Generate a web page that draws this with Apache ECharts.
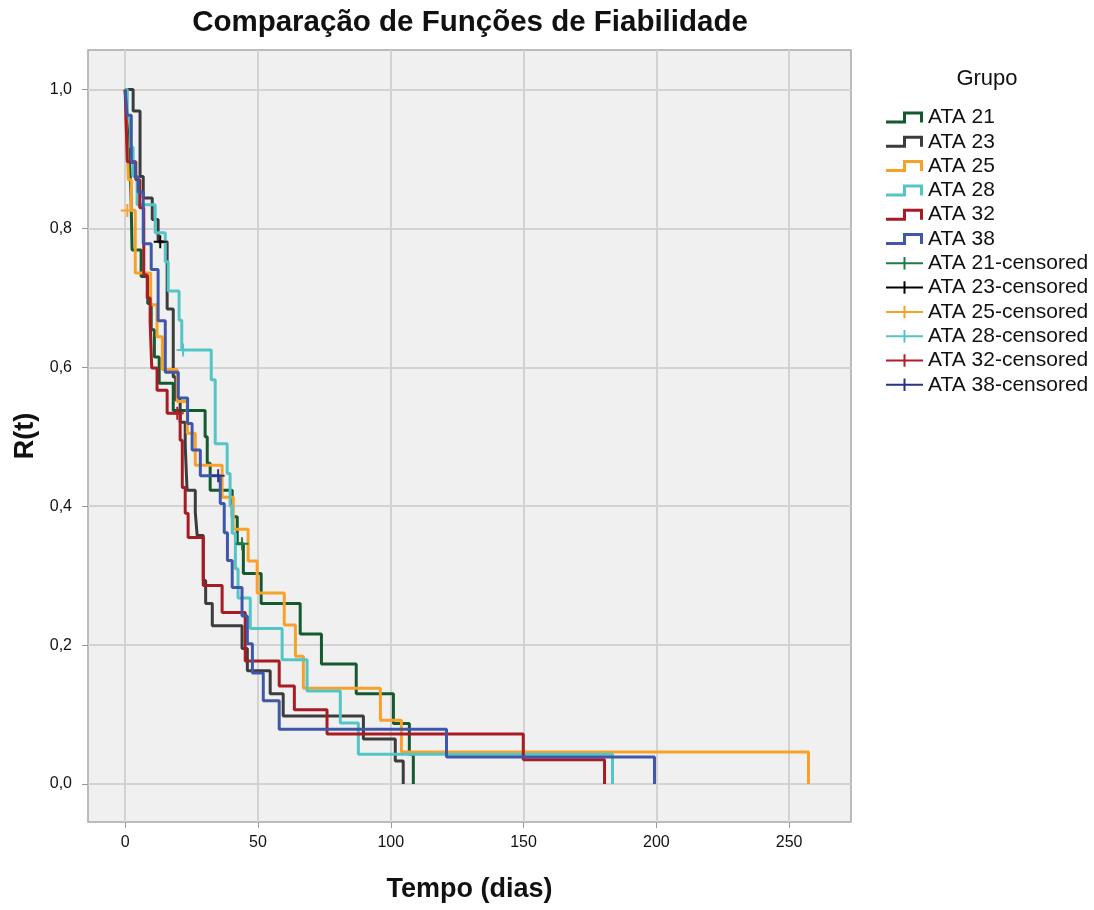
<!DOCTYPE html>
<html>
<head>
<meta charset="utf-8">
<script src="https://cdn.jsdelivr.net/npm/echarts@6/dist/echarts.min.js"></script>
<style>
html,body{margin:0;padding:0;background:#fff;}
#chart{width:1094px;height:910px;}
</style>
</head>
<body>
<div id="chart"></div>
<script>
// Kaplan-Meier step curves: [tempo (dias), R(t)]
const groupNames = ['ATA 21', 'ATA 23', 'ATA 25', 'ATA 28', 'ATA 32', 'ATA 38'];

const ata21 = [[0,1],[0.5,0.962],[1.2,0.923],[1.8,0.885],[2.2,0.846],[2.6,0.769],[6.0,0.731],[8.5,0.692],[9.8,0.654],[11,0.615],[12.8,0.577],[18.1,0.538],[30.1,0.500],[30.9,0.462],[32.0,0.423],[40.3,0.385],[42.2,0.346],[44.5,0.303],[51.2,0.260],[65.9,0.216],[73.9,0.173],[87.0,0.130],[101.0,0.087],[107.0,0.043],[108.5,0]];
const ata23 = [[0,1],[3.0,0.969],[5.6,0.875],[6.8,0.844],[10.2,0.813],[12.4,0.781],[15.8,0.684],[18.1,0.586],[19.0,0.553],[20.7,0.521],[22.6,0.488],[23.3,0.423],[26.4,0.391],[27.1,0.358],[29.4,0.293],[30.3,0.260],[32.8,0.228],[44.0,0.195],[46.0,0.163],[54.6,0.130],[59.5,0.098],[89.7,0.065],[101.7,0.033],[104.7,0]];
const ata25 = [[0,1],[0.3,0.957],[0.8,0.913],[1.2,0.870],[2.3,0.826],[3.8,0.736],[9.6,0.690],[12.0,0.644],[14.0,0.597],[19.6,0.551],[23.4,0.505],[26.4,0.459],[36.5,0.413],[40.7,0.367],[46.3,0.321],[49.7,0.275],[59.9,0.229],[64.1,0.184],[67.1,0.138],[96.1,0.092],[104.0,0.046],[257.3,0]];
const ata28 = [[0,1],[0.8,0.958],[2.0,0.917],[3.0,0.875],[4.5,0.834],[11.3,0.794],[15.1,0.752],[16.2,0.710],[20.3,0.668],[21.3,0.625],[32.4,0.582],[33.9,0.490],[38.4,0.447],[39.5,0.400],[40.3,0.361],[41.5,0.310],[42.5,0.268],[47.1,0.224],[59.1,0.179],[68.5,0.134],[81.0,0.088],[87.8,0.043],[183.5,0]];
const ata32 = [[0,1],[0.3,0.960],[0.8,0.896],[4.0,0.870],[5.5,0.830],[7.0,0.733],[8.3,0.700],[9.4,0.665],[10.0,0.599],[12.0,0.567],[15.8,0.534],[20.7,0.495],[21.5,0.427],[22.6,0.390],[23.7,0.355],[29.4,0.286],[36.5,0.247],[45.2,0.177],[58.0,0.141],[63.7,0.107],[76.0,0.072],[149.9,0.035],[180.5,0]];
const ata38 = [[0,1],[0.7,0.963],[2.3,0.895],[3.8,0.874],[4.9,0.852],[6.8,0.778],[9.8,0.741],[12.4,0.667],[15.1,0.593],[20.0,0.556],[23.5,0.519],[25.2,0.481],[28.3,0.444],[35.8,0.404],[37.3,0.362],[38.5,0.322],[40.3,0.283],[44.0,0.242],[46.0,0.202],[47.9,0.160],[52.0,0.120],[58.0,0.079],[121.0,0.039],[199.3,0]];

// censored observations
const cens21 = [[44.0,0.346]];
const cens23 = [[13.2,0.781]];
const cens25 = [[0.8,0.826]];
const cens28 = [[21.8,0.625]];
const cens32 = [[19.6,0.534]];
const cens38 = [[35.0,0.444]];

const xTicks = [0,50,100,150,200,250];
const yTicks = [0,0.2,0.4,0.6,0.8,1.0];

const lineColors = ['#14592f','#3c3c3c','#f8a12a','#53c5c7','#a81b22','#3f57a9'];
const censColors = ['#1f7a43','#000000','#f8a12a','#53c5c7','#b01f28','#2a3382'];

const curves = [ata21, ata23, ata25, ata28, ata32, ata38];
const censored = [cens21, cens23, cens25, cens28, cens32, cens38];

const stepIcon = 'path://M0,9 L17,9 L17,0 L37,0 L37,11 L34,11 L34,3 L20,3 L20,12 L0,12 Z';
const crossIcon = 'path://M0,5.25 L17.5,5.25 L17.5,0 L19.5,0 L19.5,5.25 L37,5.25 L37,7.25 L19.5,7.25 L19.5,12.5 L17.5,12.5 L17.5,7.25 L0,7.25 Z';
const plusSymbol = 'path://M5.1,0 L6.9,0 L6.9,5.1 L12,5.1 L12,6.9 L6.9,6.9 L6.9,12 L5.1,12 L5.1,6.9 L0,6.9 L0,5.1 L5.1,5.1 Z';

const FONT = '"Liberation Sans", Arial, sans-serif';

const series = [];
const legendData = [];
curves.forEach((c, i) => {
  series.push({
    name: groupNames[i],
    type: 'line',
    step: 'end',
    data: c,
    showSymbol: false,
    symbol: 'none',
    lineStyle: { color: lineColors[i], width: 3 },
    itemStyle: { color: lineColors[i] },
    z: 2 + i,
    animation: false
  });
  legendData.push({ name: groupNames[i], icon: stepIcon });
});
censored.forEach((c, i) => {
  const nm = groupNames[i] + '-censored';
  series.push({
    name: nm,
    type: 'scatter',
    data: c,
    symbol: plusSymbol,
    symbolSize: 13,
    itemStyle: { color: censColors[i], opacity: 1 },
    z: 10,
    animation: false
  });
  legendData.push({ name: nm, icon: crossIcon });
});

const chart = echarts.init(document.getElementById('chart'), null, { renderer: 'canvas' });
chart.setOption({
  backgroundColor: '#ffffff',
  animation: false,
  textStyle: { fontFamily: FONT },
  title: [
    {
      text: 'Comparação de Funções de Fiabilidade',
      left: 470, top: 8, textAlign: 'center', padding: 0,
      textStyle: { fontFamily: FONT, fontSize: 29.5, fontWeight: 'bold', color: '#111' }
    },
    {
      text: 'Grupo',
      left: 987, top: 68, textAlign: 'center', padding: 0,
      textStyle: { fontFamily: FONT, fontSize: 22, fontWeight: 'normal', color: '#111' }
    }
  ],
  legend: {
    orient: 'vertical',
    left: 886,
    top: 107,
    padding: 0,
    itemWidth: 37,
    itemHeight: 13,
    itemGap: 3.3,
    selectedMode: false,
    data: legendData,
    itemStyle: { borderWidth: 0 },
    textStyle: { fontFamily: FONT, fontSize: 21, color: '#111', lineHeight: 20 }
  },
  grid: {
    left: 88, top: 50, right: 243, bottom: 88,
    show: true,
    backgroundColor: '#f0f0f0',
    borderColor: '#a8a8a8',
    borderWidth: 1.5
  },
  xAxis: {
    type: 'value',
    min: -14,
    max: 273.3,
    name: 'Tempo (dias)',
    nameLocation: 'middle',
    nameGap: 54,
    nameTextStyle: { fontFamily: FONT, fontSize: 27, fontWeight: 'bold', color: '#111' },
    axisLine: { show: false, onZero: false },
    axisTick: { show: true, length: 6, lineStyle: { color: '#999' }, customValues: xTicks },
    axisLabel: { customValues: xTicks, fontFamily: FONT, fontSize: 16, color: '#111', margin: 13 },
    splitLine: { show: true, lineStyle: { color: '#d2d2d2', width: 2 } }
  },
  yAxis: {
    type: 'value',
    min: -0.0547,
    max: 1.057,
    name: 'R(t)',
    nameLocation: 'middle',
    nameGap: 47,
    nameTextStyle: { fontFamily: FONT, fontSize: 27, fontWeight: 'bold', color: '#111' },
    axisLine: { show: false, onZero: false },
    axisTick: { show: true, length: 6, lineStyle: { color: '#999' }, customValues: yTicks },
    axisLabel: {
      customValues: yTicks,
      fontFamily: FONT, fontSize: 16, color: '#111', margin: 16,
      formatter: v => v.toFixed(1).replace('.', ',')
    },
    splitLine: { show: true, lineStyle: { color: '#d2d2d2', width: 2 } }
  },
  series: series
});
</script>
</body>
</html>
